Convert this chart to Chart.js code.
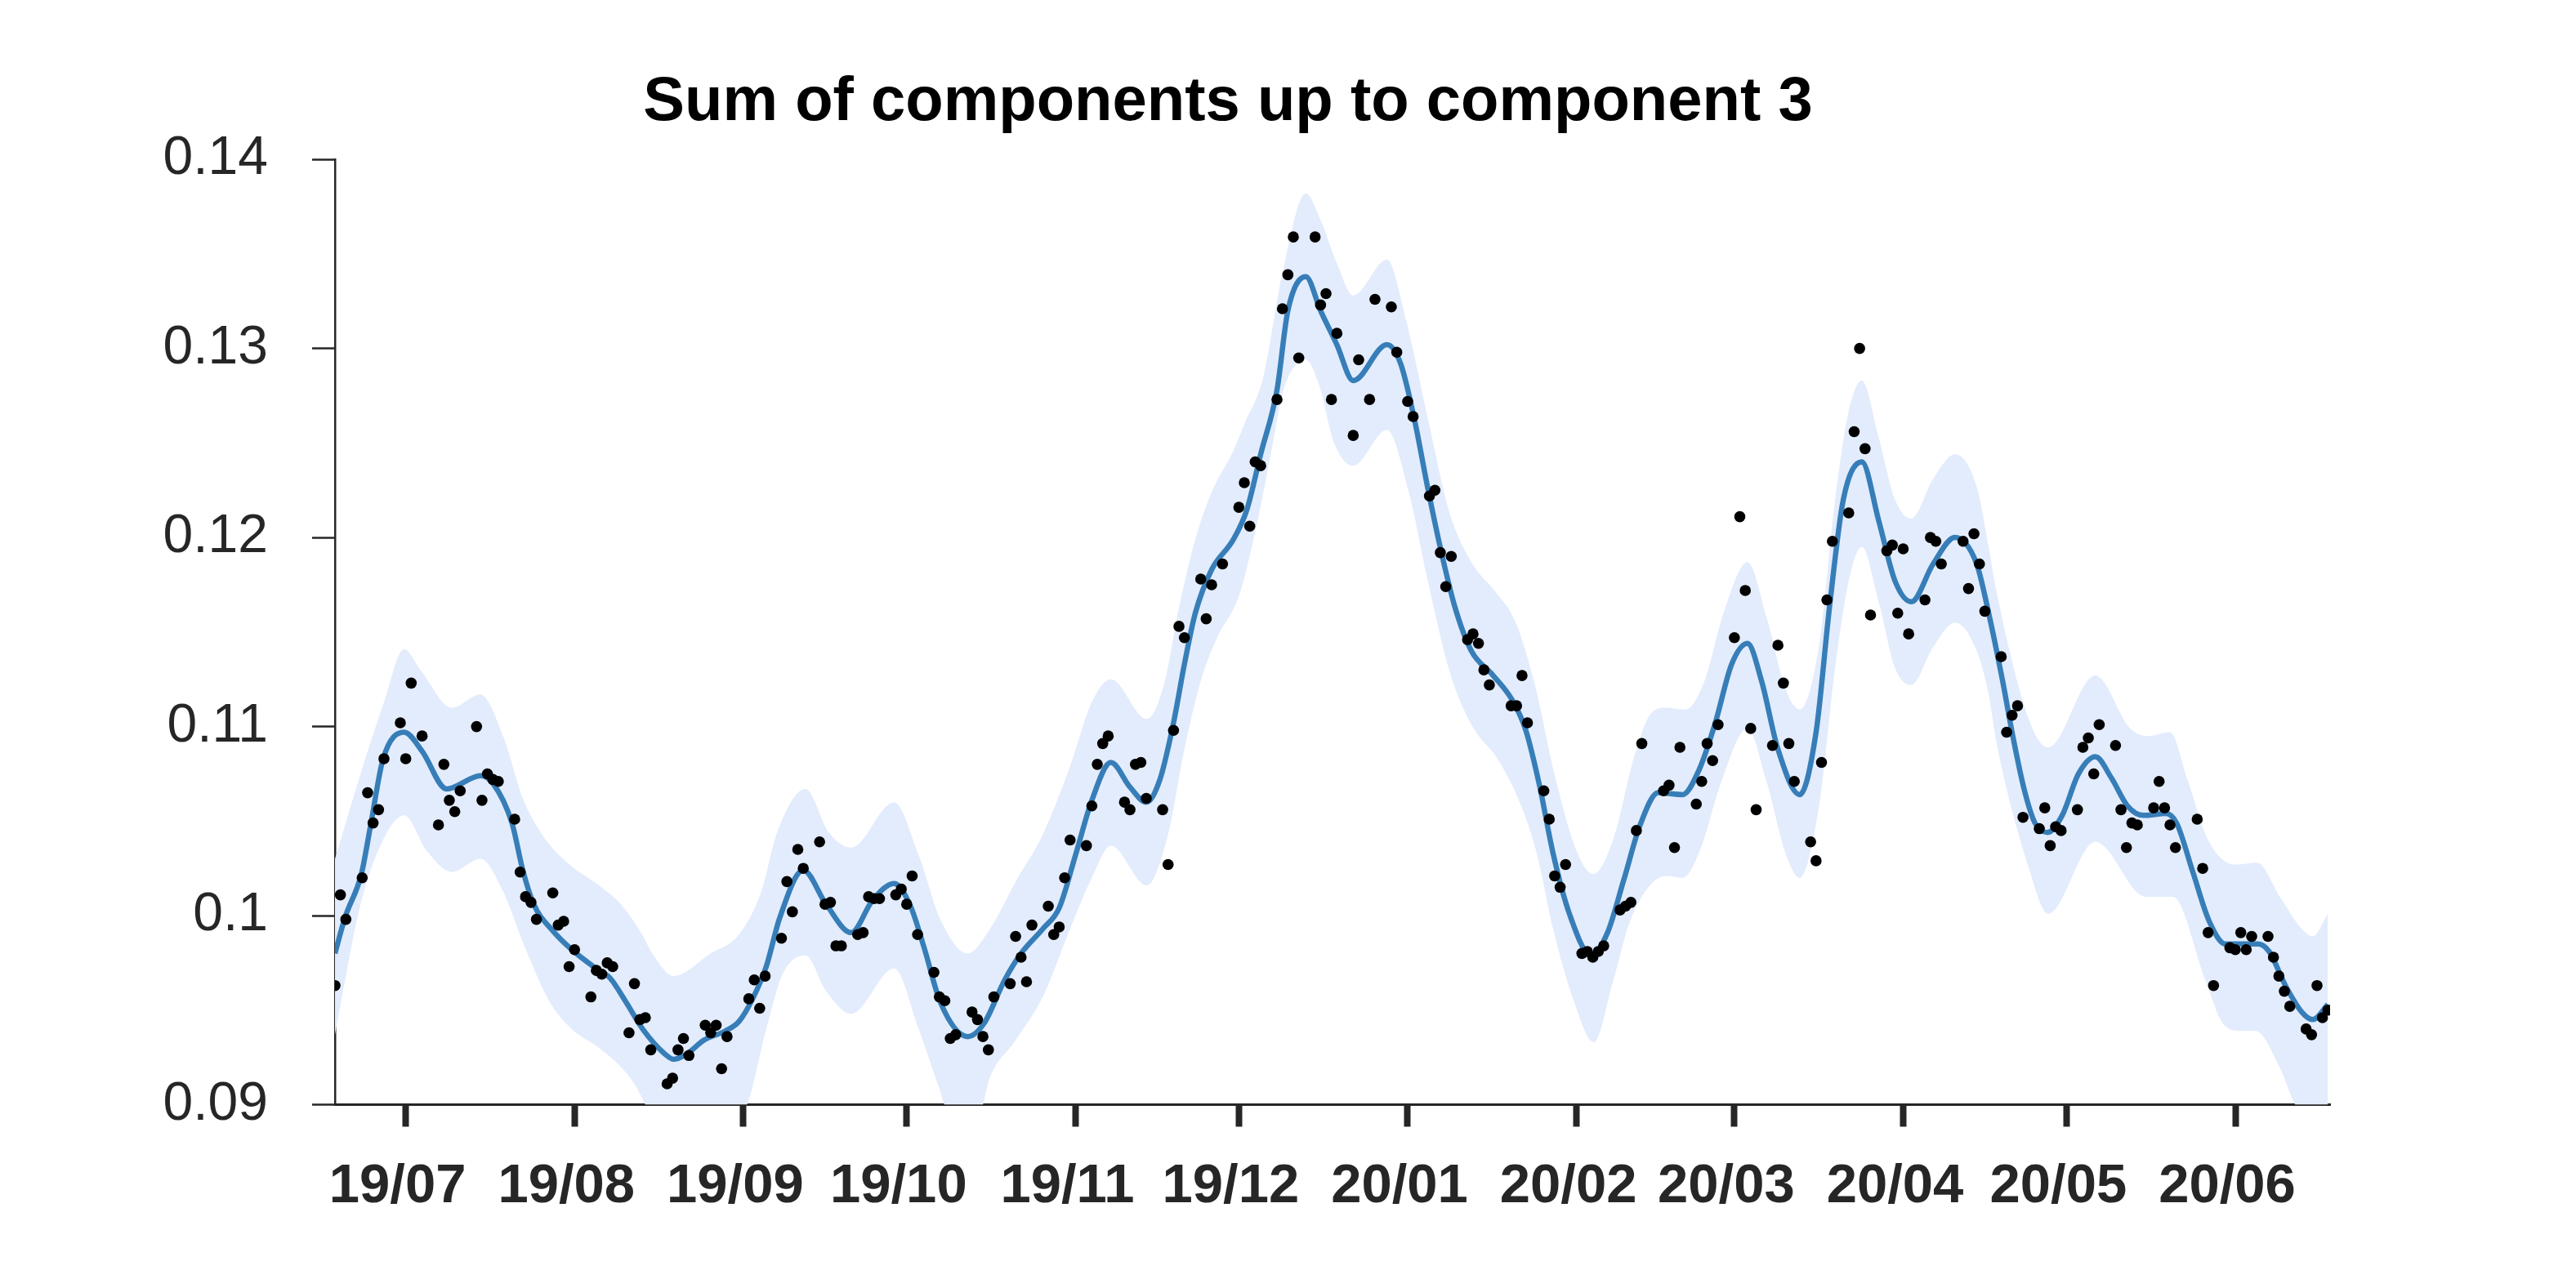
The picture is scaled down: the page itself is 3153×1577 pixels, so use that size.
<!DOCTYPE html>
<html>
<head>
<meta charset="utf-8">
<script src="https://cdn.jsdelivr.net/npm/chart.js@4.4.1/dist/chart.umd.min.js"></script>
<style>
html,body{margin:0;padding:0;background:#fff;overflow:hidden}
canvas{display:block}
</style>
</head>
<body>
<canvas id="c" width="3153" height="1577"></canvas>
<script>
// ---------- data ----------
const titleText = 'Sum of components up to component 3';
const startDate = '2019-06-18';               // x = days after this date

// observations (black dots): day offset and value
const pointDays = [
  0,1,2, 5,6,7,8,9, 12,13,14,16, 19,20,21,22,23, 26,27,28,29,30,
  33,34,35,36,37, 40,41,42,43,44, 47,48,49,50,51, 54,55,56,57,58,
  61,62,63,64,65, 68,69,70,71,72, 76,77,78,79, 82,83,84,85,86,
  89,90,91,92,93, 96,97,98,99,100, 103,104,105,106,107, 110,111,112,113,114,
  117,118,119,120,121, 124,125,126,127,128, 131,132,133,134,135, 138,139,140,141,142,
  145,146,147,148,149, 152,153,154,155,156, 159,160,161,163, 166,167,168,169,170,
  173,174,175,176,177, 180,181,182,183,184, 187,188,190,191, 194,195,197,198,
  201,202,203,204,205, 208,209,210,211,212, 216,217,218,219, 222,223,224,225,226,
  229,230,231,232,233, 236,237,238,239,240, 244,245,246,247, 250,251,252,253,254,
  257,258,259,260,261, 264,265,266,267,268, 271,272,273,274,275, 278,279,280,281,282,
  285,286,287,288,289, 292,293,294,295, 299,300,301,302,303, 306,307,308,309,310,
  313,314,315,316,317, 320,321,322,323,324, 327,328,329,330,331, 334,335,336,337,338,
  342,343,344,345, 348,349,350,351,352, 355,356,357,358,359, 362,363,364,365,366
];
const pointValues = [
  0.0963,0.1011,0.0998, 0.1020,0.1065,0.1049,0.1056,0.1083, 0.1102,0.1083,0.1123,0.1095, 0.1048,0.1080,0.1061,0.1055,0.1066, 0.1100,0.1061,0.1075,0.1072,0.1071,
  0.1051,0.1023,0.1010,0.1007,0.0998, 0.1012,0.0995,0.0997,0.0973,0.0982, 0.0957,0.0971,0.0969,0.0975,0.0973, 0.0938,0.0964,0.0945,0.0946,0.0929,
  0.0911,0.0914,0.0929,0.0935,0.0926, 0.0942,0.0938,0.0942,0.0919,0.0936, 0.0956,0.0966,0.0951,0.0968, 0.0988,0.1018,0.1002,0.1035,0.1025,
  0.1039,0.1006,0.1007,0.0984,0.0984, 0.0990,0.0991,0.1010,0.1009,0.1009, 0.1011,0.1014,0.1006,0.1021,0.0990, 0.0970,0.0957,0.0955,0.0935,0.0937,
  0.0949,0.0945,0.0936,0.0929,0.0957, 0.0964,0.0989,0.0978,0.0965,0.0995, 0.1005,0.0990,0.0994,0.1020,0.1040, 0.1037,0.1058,0.1080,0.1091,0.1095,
  0.1060,0.1056,0.1080,0.1081,0.1062, 0.1056,0.1027,0.1098,0.1153,0.1147, 0.1178,0.1157,0.1175,0.1186, 0.1216,0.1229,0.1206,0.1240,0.1238,
  0.1273,0.1321,0.1339,0.1359,0.1295, 0.1359,0.1323,0.1329,0.1273,0.1308, 0.1254,0.1294,0.1273,0.1326, 0.1322,0.1298,0.1272,0.1264,
  0.1222,0.1225,0.1192,0.1174,0.1190, 0.1146,0.1149,0.1144,0.1130,0.1122, 0.1111,0.1111,0.1127,0.1102, 0.1066,0.1051,0.1021,0.1015,0.1027,
  0.0980,0.0981,0.0978,0.0981,0.0984, 0.1003,0.1005,0.1007,0.1045,0.1091, 0.1066,0.1069,0.1036,0.1089, 0.1059,0.1071,0.1091,0.1082,0.1101,
  0.1147,0.1211,0.1172,0.1099,0.1056, 0.1090,0.1143,0.1123,0.1091,0.1071, 0.1039,0.1029,0.1081,0.1167,0.1198, 0.1213,0.1256,0.1300,0.1247,0.1159,
  0.1193,0.1196,0.1160,0.1194,0.1149, 0.1167,0.1200,0.1198,0.1186, 0.1198,0.1173,0.1202,0.1186,0.1161, 0.1137,0.1097,0.1106,0.1111,0.1052,
  0.1046,0.1057,0.1037,0.1047,0.1045, 0.1056,0.1089,0.1094,0.1075,0.1101, 0.1090,0.1056,0.1036,0.1049,0.1048, 0.1057,0.1071,0.1057,0.1048,0.1036,
  0.1051,0.1025,0.0991,0.0963, 0.0983,0.0982,0.0991,0.0982,0.0989, 0.0989,0.0978,0.0968,0.0960,0.0952, 0.0940,0.0937,0.0963,0.0946,0.0950
];

// fitted sum (blue line)
const curveDays = [
  0,1.85,4.85,6.5,8.85, 12.7,16,20.5,26.75,29, 32.5,34.5,36.5,40,43.5, 47.5,50.5,53.5,56.5,60.5,
  62.2,64.7,67.7,71.7,74.2, 76.7,79.2,81.7,86,90.2, 94.8,98.7,102.7,105.7,108.2, 111.2,116.2,119.2,123,126,
  130,133,136,139,142.5, 146,149,151.5,154,156, 158,161,165,167.5,170, 173,175,178.3,181,184,
  187,193.2,195.7,198.2,200.7, 203.2,205.7,208.7,212.7,216.2, 218.7,221.2,223.7,226.7,230.7, 233.7,236.7,239.7,243,247.5,
  250.5,253.5,256.5,259.4,262, 265,269,272,274.5,277, 280.4,283.5,286.5,289.5,293.5, 297.5,301.5,303.7,306.2,308.2,
  310.2,312.2,314.5,317.2,320.2, 323.3,326.2,329.2,332.2,336.2, 338.2,341.2,344.2,347.2,350.2, 353.2,355.2,358.2,361.2,363.2, 366
];
const curveValues = [
  0.0980,0.0999,0.1022,0.1047,0.1083, 0.1097,0.1087,0.1067,0.1074,0.1070, 0.1049,0.1024,0.1006,0.0992,0.0982, 0.0973,0.0967,0.0954,0.0940,0.0927,
  0.0924,0.0927,0.0934,0.0939,0.0944, 0.0956,0.0973,0.0999,0.1024,0.1006, 0.0991,0.1008,0.1017,0.1005,0.0983, 0.0954,0.0936,0.0943,0.0966,0.0980,
  0.0993,0.1004,0.1032,0.1061,0.1081, 0.1068,0.1060,0.1072,0.1102,0.1133, 0.1160,0.1183,0.1199,0.1215,0.1244, 0.1278,0.1320,0.1338,0.1320,0.1302,
  0.1283,0.1302,0.1292,0.1263,0.1226, 0.1192,0.1163,0.1140,0.1127,0.1114, 0.1098,0.1069,0.1033,0.1001,0.0979, 0.0991,0.1019,0.1048,0.1065,0.1064,
  0.1077,0.1102,0.1133,0.1144,0.1124, 0.1088,0.1064,0.1097,0.1164,0.1220, 0.1240,0.1209,0.1177,0.1166,0.1186, 0.1200,0.1186,0.1160,0.1125,0.1094,
  0.1067,0.1049,0.1044,0.1053,0.1075, 0.1084,0.1073,0.1058,0.1053,0.1054, 0.1049,0.1023,0.0997,0.0985,0.0985, 0.0985,0.0981,0.0963,0.0949,0.0945, 0.0953
];

// uncertainty band: upper edge
const upperDays = [
  0,4.7,9,12.7,15.7, 21.5,26.7,31,34.5,38.5, 43.5,48.5,52.5,56,58.5, 62.2,69,74.2,78.2,81.2,
  86.4,90.7,94.8,102.7,107.2, 111.2,116.2,120.5,125,130, 135,139,142.5,149.1,152.4, 155,158,161,165,167,
  170.5,174,178.3,181,184, 187,193.2,196.7,200.7,204.7, 208.7,213.2,216.7,220.2,224.2, 228.2,231.1,234.7,238.7,241.7,
  244.5,248,251.5,255,259.4, 263,266.5,269,272.5,275.5, 278,280.4,283.5,286.5,289.5, 293.5,297.5,301.5,303.7,305.1,
  311.2,314.6,323.3,329.7,333, 337,340.2,344,349,353, 357.2,361.2,363.2,366
];
const upperValues = [
  0.1030,0.1075,0.1113,0.1141,0.1130, 0.1110,0.1117,0.1094,0.1062,0.1041, 0.1026,0.1016,0.1006,0.0992,0.0979, 0.0968,0.0980,0.0990,0.1012,0.1044,
  0.1067,0.1044,0.1036,0.1060,0.1032, 0.0998,0.0980,0.0994,0.1018,0.1043, 0.1079,0.1113,0.1125,0.1104,0.1124, 0.1163,0.1199,0.1224,0.1246,0.1260,
  0.1285,0.1340,0.1382,0.1368,0.1345, 0.1328,0.1347,0.1315,0.1263,0.1213, 0.1187,0.1171,0.1156,0.1124,0.1072, 0.1033,0.1022,0.1040,0.1085,0.1107,
  0.1110,0.1109,0.1124,0.1160,0.1187, 0.1157,0.1119,0.1109,0.1142,0.1220, 0.1267,0.1283,0.1253,0.1220,0.1210, 0.1231,0.1244,0.1227,0.1195,0.1172,
  0.1103,0.1089,0.1127,0.1099,0.1095, 0.1097,0.1072,0.1040,0.1027,0.1028, 0.1010,0.0993,0.0989,0.1001
];

// uncertainty band: lower edge
const lowerDays = [
  0,4.7,9,12.7,16.9, 21.5,26.7,31,34.5,39.5, 43.5,48.5,52.5,55,60, 66,71,75.7,79.2,82.2,
  86.4,90.2,94.8,102.7,107.2, 110.7,113,116.2,119,120, 125,130,135,139,142.5, 149.1,153,156,159,162,
  166,169,172,174.2,178.3, 180.7,183.5,187,193.2,197.2, 200.7,204.7,208.7,213.7,217.7, 220.7,223.7,227.5,231.2,234.7,
  237.7,241.5,244.5,247.5,251, 254.5,259.4,263,266.5,269, 272.5,275.5,278,280.4,283.5, 286.5,289.5,293.5,297.5,301.5,
  303.7,305.1,311.2,314.6,323.3, 332.6,337.5,343.6,346.7,350, 352.7,357.1,360,363,366
];
const lowerValues = [
  0.0937,0.1006,0.1041,0.1053,0.1034, 0.1023,0.1030,0.1012,0.0986,0.0954, 0.0940,0.0930,0.0920,0.0911,0.0885, 0.0880,0.0884,0.0900,0.0940,0.0969,
  0.0979,0.0960,0.0948,0.0972,0.0940, 0.0911,0.0893,0.0890,0.0900,0.0912, 0.0934,0.0957,0.0993,0.1020,0.1037, 0.1016,0.1043,0.1088,0.1124,0.1147,
  0.1169,0.1203,0.1246,0.1278,0.1294, 0.1281,0.1250,0.1238,0.1257,0.1224, 0.1177,0.1129,0.1101,0.1082,0.1059, 0.1033,0.0993,0.0955,0.0933,0.0965,
  0.0996,0.1016,0.1021,0.1020,0.1037, 0.1070,0.1099,0.1070,0.1032,0.1020, 0.1057,0.1131,0.1177,0.1195,0.1166, 0.1131,0.1122,0.1142,0.1155,0.1140,
  0.1117,0.1092,0.1024,0.1001,0.1039, 0.1010,0.1010,0.0965,0.0943,0.0939, 0.0939,0.0920,0.0900,0.0890,0.0893
];

// axes
const xRange = [0, 366.4];
const xTickDates = ['2019-07-01','2019-08-01','2019-09-01','2019-10-01','2019-11-01','2019-12-01',
                    '2020-01-01','2020-02-01','2020-03-01','2020-04-01','2020-05-01','2020-06-01'];
const xTickLabels = ['19/07','19/08','19/09','19/10','19/11','19/12','20/01','20/02','20/03','20/04','20/05','20/06'];
const yTickValues = [0.09, 0.10, 0.11, 0.12, 0.13, 0.14];
const yTickLabels = ['0.09', '0.1', '0.11', '0.12', '0.13', '0.14'];

// ---------- chart ----------
const dayOf = s => Math.round((Date.parse(s + 'T00:00:00Z') - Date.parse(startDate + 'T00:00:00Z')) / 86400000);
const xTickDays = xTickDates.map(dayOf);
const xy = (xs, ys) => xs.map((x, i) => ({x: x, y: ys[i]}));

const FONT = '"Liberation Sans", Arial, Helvetica, sans-serif';
const AXIS = '#262626';
Chart.defaults.font.family = FONT;

new Chart(document.getElementById('c'), {
  type: 'line',
  data: {
    datasets: [
      { label: 'Observations', data: xy(pointDays, pointValues), showLine: false,
        pointRadius: 6.8, pointBackgroundColor: '#000', pointBorderColor: '#000', pointBorderWidth: 0, order: 0 },
      { label: 'Sum of components', data: xy(curveDays, curveValues), borderColor: '#377eb8', borderWidth: 6.5,
        pointRadius: 0, cubicInterpolationMode: 'monotone', fill: false, order: 1 },
      { label: 'Upper', data: xy(upperDays, upperValues), borderWidth: 0, borderColor: 'rgba(0,0,0,0)',
        pointRadius: 0, cubicInterpolationMode: 'monotone', capBezierPoints: false,
        fill: { target: 3 }, backgroundColor: '#e3ecfc', order: 2 },
      { label: 'Lower', data: xy(lowerDays, lowerValues), borderWidth: 0, borderColor: 'rgba(0,0,0,0)',
        pointRadius: 0, cubicInterpolationMode: 'monotone', capBezierPoints: false, fill: false, order: 3 }
    ]
  },
  options: {
    responsive: false, animation: false, devicePixelRatio: 1,
    events: [],
    layout: { padding: { left: 154, right: 301, top: 0, bottom: 0 } },
    plugins: {
      legend: { display: false },
      tooltip: { enabled: false },
      title: { display: true, text: titleText, color: '#000',
               font: { family: FONT, size: 76, weight: 'bold' },
               padding: { top: 80, bottom: 24 } }
    },
    scales: {
      x: {
        type: 'linear', min: xRange[0], max: xRange[1],
        afterBuildTicks: s => { s.ticks = xTickDays.map(v => ({ value: v })); },
        afterFit: s => { s.height = 224.5; },
        ticks: { callback: (v, i) => xTickLabels[i], autoSkip: false, maxRotation: 0, minRotation: 0,
                 font: { family: FONT, size: 67, weight: 'bold' }, color: AXIS, padding: 34, labelOffset: -10 },
        grid: { drawOnChartArea: false, drawTicks: true, tickLength: 27, tickWidth: 8, tickColor: AXIS },
        border: { display: true, color: AXIS, width: 3 }
      },
      y: {
        type: 'linear', min: yTickValues[0], max: yTickValues[yTickValues.length - 1],
        afterBuildTicks: s => { s.ticks = yTickValues.map(v => ({ value: v })); },
        afterFit: s => { s.width = 256; },
        ticks: { callback: (v, i) => yTickLabels[i], font: { family: FONT, size: 66 }, color: AXIS, padding: 54 },
        grid: { drawOnChartArea: false, drawTicks: true, tickLength: 28, tickWidth: 2.5, tickColor: AXIS },
        border: { display: true, color: AXIS, width: 2.5 }
      }
    }
  }
});
</script>
</body>
</html>
